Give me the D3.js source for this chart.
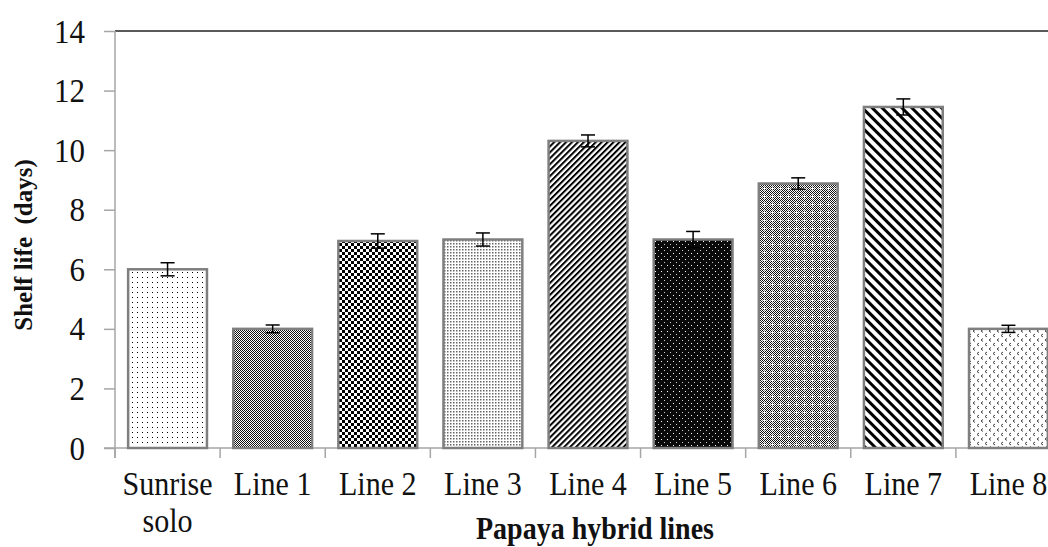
<!DOCTYPE html>
<html>
<head>
<meta charset="utf-8">
<script src="https://cdn.jsdelivr.net/npm/d3@7"></script>
<style>
  html, body { margin: 0; padding: 0; background: #fff; }
  svg { display: block; }
  text { font-family: "Liberation Serif", "Times New Roman", serif; fill: #111; }
</style>
</head>
<body>
<div id="chart"></div>
<script>
// data
var categories = ["Sunrise solo", "Line 1", "Line 2", "Line 3", "Line 4", "Line 5", "Line 6", "Line 7", "Line 8"];
var tickLabels = [["Sunrise", "solo"], ["Line 1"], ["Line 2"], ["Line 3"], ["Line 4"], ["Line 5"], ["Line 6"], ["Line 7"], ["Line 8"]];
var shelfLife = [6.0, 4.0, 6.95, 7.0, 10.31, 7.0, 8.88, 11.45, 4.0];
var stdErr = [0.22, 0.13, 0.24, 0.22, 0.2, 0.27, 0.19, 0.27, 0.12];
var yTicks = [0, 2, 4, 6, 8, 10, 12, 14];
var patternIds = ["dots", "fine", "checker", "light", "updiag", "darkdots", "plus", "downdiag", "divot"];

var width = 1048, height = 547;
var axis_color = '#a6a6a6';
var bar_stroke = '#7f7f7f';
var stretch = 1.12; // the source text is a bit taller than wide

var svg = d3.select("#chart").append("svg")
    .attr("width", width)
    .attr("height", height);
var defs = svg.append("defs");

// helper: a pattern tile
function tile(id, w, h, bg, extra) {
    var p = defs.append("pattern")
        .attr("id", id)
        .attr("patternUnits", "userSpaceOnUse")
        .attr("width", w)
        .attr("height", h);
    if (extra) p.attr("patternTransform", extra);
    if (bg) p.append("rect").attr("width", w).attr("height", h).attr("fill", bg);
    return p;
}

// Sunrise solo - sparse dots
var p = tile("dots", 5, 5, "#fff");
p.append("rect").attr("x", 2).attr("y", 2).attr("width", 1).attr("height", 1).attr("fill", "#000");

// Line 1 - fine grey checker
p = tile("fine", 2, 2, "#fff");
p.append("rect").attr("width", 1).attr("height", 1).attr("fill", "#111");
p.append("rect").attr("x", 1).attr("y", 1).attr("width", 1).attr("height", 1).attr("fill", "#111");

// Line 2 - small checkerboard
p = tile("checker", 6, 6, "#fff");
p.append("rect").attr("width", 3).attr("height", 3).attr("fill", "#000");
p.append("rect").attr("x", 3).attr("y", 3).attr("width", 3).attr("height", 3).attr("fill", "#000");

// Line 3 - light dotted grid
p = tile("light", 3, 3, "#fff");
p.append("rect").attr("width", 1.5).attr("height", 1.5).attr("fill", "#666");

// Line 4 - dense upward diagonal
p = tile("updiag", 4.2, 4.2, "#fff", "rotate(45)");
p.append("rect").attr("width", 2).attr("height", 4.2).attr("fill", "#000");

// Line 5 - black with white dots
p = tile("darkdots", 6, 6, "#0a0a0a");
p.append("rect").attr("x", 1).attr("y", 1).attr("width", 1).attr("height", 1).attr("fill", "#fff");
p.append("rect").attr("x", 4).attr("y", 4).attr("width", 1).attr("height", 1).attr("fill", "#ccc");

// Line 6 - grey checker with white plus marks
p = tile("plus", 8, 8, null);
p.append("rect").attr("width", 8).attr("height", 8).attr("fill", "url(#fine)");
p.append("path").attr("d", "M2.5,4.5H6.5M4.5,2.5V6.5").attr("stroke", "#fff").attr("stroke-width", 1);

// Line 7 - wide downward diagonal
p = tile("downdiag", 7, 7, "#fff", "rotate(-45)");
p.append("rect").attr("width", 3).attr("height", 7).attr("fill", "#000");

// Line 8 - small divots
p = tile("divot", 8, 9, "#fff");
p.append("path").attr("d", "M3,1L1,2.5L3,4").attr("fill", "none").attr("stroke", "#444").attr("stroke-width", 1);
p.append("path").attr("d", "M7,5.5L5,7L7,8.5").attr("fill", "none").attr("stroke", "#444").attr("stroke-width", 1);

var x = d3.scaleBand()
    .domain(categories)
    .range([115, 1061])
    .paddingInner(0.25)
    .paddingOuter(0.125);

var y = d3.scaleLinear()
    .domain([0, 14])
    .range([448, 31]);

// top border line at 14
svg.append("line")
    .attr("x1", 115).attr("x2", width)
    .attr("y1", y(14)).attr("y2", y(14))
    .attr("stroke", "#595959")
    .attr("stroke-width", 2);

// y axis
var yAxis = svg.append("g")
    .attr("transform", "translate(115,0)")
    .call(d3.axisLeft(y).tickValues(yTicks).tickSize(11).tickPadding(19).tickSizeOuter(0));
yAxis.select(".domain").attr("stroke", axis_color).attr("stroke-width", 1.5)
    .attr("d", "M0," + y(14) + "V" + (y(0) + 10));
yAxis.selectAll(".tick line").attr("stroke", axis_color).attr("stroke-width", 1.5);
yAxis.selectAll(".tick text")
    .style("font-family", '"Liberation Serif", "Times New Roman", serif')
    .style("font-size", "31px")
    .attr("fill", "#111")
    .attr("transform", "scale(1," + stretch + ")");

// x axis line and boundary ticks
svg.append("line")
    .attr("x1", 104).attr("x2", width)
    .attr("y1", y(0)).attr("y2", y(0))
    .attr("stroke", axis_color)
    .attr("stroke-width", 1.5);
svg.selectAll(".xtick")
    .data(d3.range(categories.length + 1))
    .enter()
    .append("line")
    .attr("class", "xtick")
    .attr("x1", function(i){ return x.range()[0] + i*x.step(); })
    .attr("x2", function(i){ return x.range()[0] + i*x.step(); })
    .attr("y1", y(0))
    .attr("y2", y(0) + 10)
    .attr("stroke", axis_color)
    .attr("stroke-width", 1.5);

// bars
svg.selectAll(".bar")
    .data(categories)
    .enter()
    .append("rect")
    .attr("class", "bar")
    .attr("x", function(d){ return x(d); })
    .attr("width", x.bandwidth())
    .attr("y", function(d, i){ return y(shelfLife[i]); })
    .attr("height", function(d, i){ return y(0) - y(shelfLife[i]); })
    .attr("fill", function(d, i){ return "url(#" + patternIds[i] + ")"; })
    .attr("stroke", bar_stroke)
    .attr("stroke-width", 2.5);

// error bars
var err = svg.selectAll(".err")
    .data(categories)
    .enter()
    .append("g")
    .attr("class", "err")
    .attr("transform", function(d){ return "translate(" + (x(d) + x.bandwidth()/2) + ",0)"; })
    .attr("stroke", "#000")
    .attr("stroke-width", 1.5);
err.append("line")
    .attr("y1", function(d, i){ return y(shelfLife[i] + stdErr[i]); })
    .attr("y2", function(d, i){ return y(shelfLife[i] - stdErr[i]); });
err.append("line")
    .attr("x1", -7).attr("x2", 7)
    .attr("y1", function(d, i){ return y(shelfLife[i] + stdErr[i]); })
    .attr("y2", function(d, i){ return y(shelfLife[i] + stdErr[i]); });
err.append("line")
    .attr("x1", -7).attr("x2", 7)
    .attr("y1", function(d, i){ return y(shelfLife[i] - stdErr[i]); })
    .attr("y2", function(d, i){ return y(shelfLife[i] - stdErr[i]); });

// category labels
var lab = svg.selectAll(".xlab")
    .data(categories)
    .enter()
    .append("g")
    .attr("class", "xlab")
    .attr("transform", function(d){
        return "translate(" + (x(d) + x.bandwidth()/2) + ",495) scale(0.97," + stretch + ")";
    })
    .append("text")
    .attr("text-anchor", "middle")
    .attr("font-size", 31);
lab.selectAll("tspan")
    .data(function(d, i){ return tickLabels[i]; })
    .enter()
    .append("tspan")
    .attr("x", 0)
    .attr("dy", function(d, j){ return j === 0 ? 0 : 37/stretch; })
    .text(function(d){ return d; });

// axis titles
svg.append("text")
    .attr("transform", "translate(595,539) scale(1," + stretch + ")")
    .attr("text-anchor", "middle")
    .attr("font-size", 28)
    .attr("font-weight", "bold")
    .text("Papaya hybrid lines");

svg.append("text")
    .attr("transform", "translate(32,245) rotate(-90)")
    .attr("text-anchor", "middle")
    .attr("font-size", 25)
    .attr("font-weight", "bold")
    .style("white-space", "pre")
    .text("Shelf life  (days)");
</script>
</body>
</html>
